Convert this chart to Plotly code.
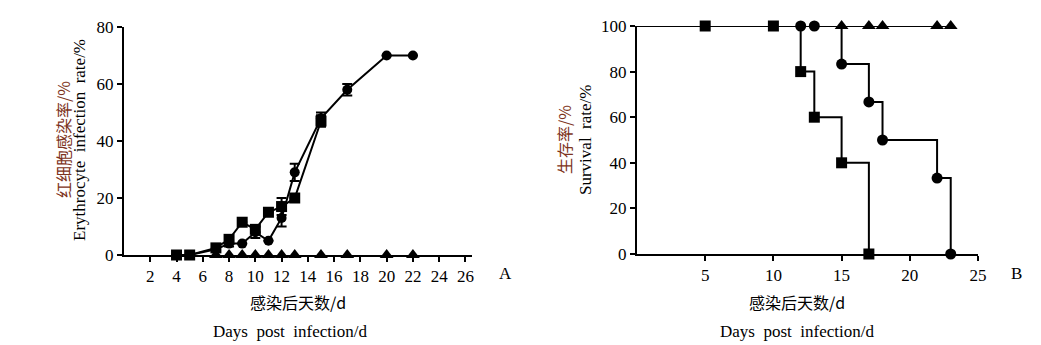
import plotly.graph_objects as go

# ---- Panel A: erythrocyte infection rate ----
sq_x = [4, 5, 7, 8, 9, 10, 11, 12, 13, 15]
sq_y = [0, 0, 2.5, 5.5, 11.5, 9, 15, 17, 20, 47]
sq_err = [0, 0, 0, 1, 0, 1, 0, 3, 0, 2]
ci_x = [4, 5, 7, 8, 9, 10, 11, 12, 13, 15, 17, 20, 22]
ci_y = [0, 0, 2, 4, 4, 8, 5, 13, 29, 48, 58, 70, 70]
ci_err = [0, 0, 0, 1, 0, 2, 0, 3, 3, 2, 2, 0, 0]
tri_x = [7, 8, 9, 10, 11, 12, 13, 15, 17, 20, 22]
tri_y = [0, 0, 0, 0, 0, 0, 0, 0, 0, 0, 0]
a_xticks = [2, 4, 6, 8, 10, 12, 14, 16, 18, 20, 22, 24, 26]
a_yticks = [0, 20, 40, 60, 80]

# ---- Panel B: survival rate (first point = curve start at day 0) ----
sb_sq_x = [0, 5, 10, 12, 13, 15, 17]
sb_sq_y = [100, 100, 100, 80, 60, 40, 0]
sb_ci_x = [0, 12, 13, 15, 17, 18, 22, 23]
sb_ci_y = [100, 100, 100, 83.3, 66.7, 50, 33.3, 0]
sb_tri_x = [0, 15, 17, 18, 22, 23]
sb_tri_y = [100, 100, 100, 100, 100, 100]
b_xticks = [5, 10, 15, 20, 25]
b_yticks = [0, 20, 40, 60, 80, 100]

W, H = 1041, 345
SERIF = "Liberation Serif"
CJK = "Noto Sans CJK SC"
BROWN = "#7d3320"

fig = go.Figure()

line = dict(color="black", width=2)
fig.add_trace(go.Scatter(x=sq_x, y=sq_y, mode="lines+markers", line=line,
                         marker=dict(symbol="square", size=11, color="black", opacity=1),
                         error_y=dict(type="data", array=sq_err, color="black", thickness=2, width=5),
                         cliponaxis=False, xaxis="x", yaxis="y"))
fig.add_trace(go.Scatter(x=ci_x, y=ci_y, mode="lines+markers", line=line,
                         marker=dict(symbol="circle", size=10, color="black", opacity=1),
                         error_y=dict(type="data", array=ci_err, color="black", thickness=2, width=5),
                         cliponaxis=False, xaxis="x", yaxis="y"))
fig.add_trace(go.Scatter(x=tri_x, y=tri_y, mode="markers",
                         marker=dict(symbol="triangle-up", size=12, color="black", opacity=1),
                         cliponaxis=False, xaxis="x", yaxis="y"))

# panel B: step lines, then markers (skipping the day-0 start point)
series_b = [(sb_tri_x, sb_tri_y, "triangle-up", 12),
            (sb_ci_x, sb_ci_y, "circle", 11),
            (sb_sq_x, sb_sq_y, "square", 11)]
for xs, ys, sym, sz in series_b:
    fig.add_trace(go.Scatter(x=xs, y=ys, mode="lines", line=line, line_shape="hv",
                             cliponaxis=False, xaxis="x2", yaxis="y2"))
for xs, ys, sym, sz in series_b:
    fig.add_trace(go.Scatter(x=xs[1:], y=ys[1:], mode="markers",
                             marker=dict(symbol=sym, size=sz, color="black", opacity=1),
                             cliponaxis=False, xaxis="x2", yaxis="y2"))

def px_x(p):
    return p / W

def px_y(p):
    return 1 - p / H

axis_common = dict(showgrid=False, zeroline=False, showline=True, linecolor="black", linewidth=2,
                   ticks="outside", tickcolor="black", tickwidth=2, ticklen=5, automargin=False,
                   tickfont=dict(family=SERIF, size=17, color="black"))

fig.update_layout(
    width=W, height=H, margin=dict(l=0, r=0, t=0, b=0, pad=0, autoexpand=False),
    paper_bgcolor="white", plot_bgcolor="white", showlegend=False,
    xaxis=dict(domain=[px_x(124), px_x(472)], range=[0, 26.5], tickvals=a_xticks,
               anchor="y", **axis_common),
    yaxis=dict(domain=[px_y(255), px_y(27)], range=[0, 80], tickvals=a_yticks,
               anchor="x", **axis_common),
    xaxis2=dict(domain=[px_x(637), px_x(978)], range=[0, 25], tickvals=b_xticks,
                anchor="y2", **axis_common),
    yaxis2=dict(domain=[px_y(254), px_y(26)], range=[0, 100], tickvals=b_yticks,
                anchor="x2", **axis_common),
)

ann = []
def add(text, x, y, font, color="black", angle=0, size=17):
    ann.append(dict(text=text, x=px_x(x), y=px_y(y), xref="paper", yref="paper",
                    showarrow=False, textangle=angle, xanchor="center", yanchor="middle",
                    font=dict(family=font, size=size, color=color)))

add("红细胞感染率/%", 63, 140, CJK, BROWN, -90, 16)
add("Erythrocyte&nbsp; infection&nbsp; rate/%", 79, 140, SERIF, "black", -90, 17)
add("感染后天数/d", 298, 302, CJK, "black", 0, 16)
add("Days&nbsp; post&nbsp; infection/d", 290, 331, SERIF, "black", 0, 17)
add("A", 505, 273, SERIF, "black", 0, 17)

add("生存率/%", 564, 140, CJK, BROWN, -90, 16)
add("Survival&nbsp; rate/%", 585, 140, SERIF, "black", -90, 17)
add("感染后天数/d", 797, 302, CJK, "black", 0, 16)
add("Days&nbsp; post&nbsp; infection/d", 797, 331, SERIF, "black", 0, 17)
add("B", 1016, 273, SERIF, "black", 0, 17)

fig.update_layout(annotations=ann)
fig.write_html("out.html")
